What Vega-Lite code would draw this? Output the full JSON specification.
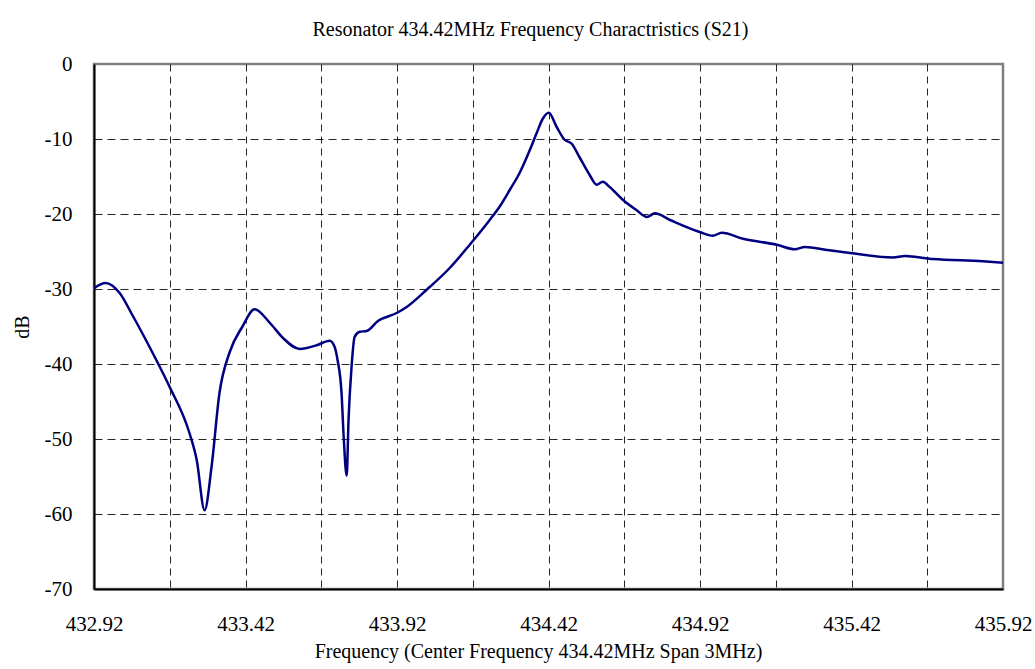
{
  "$schema": "https://vega.github.io/schema/vega-lite/v6.json",
  "width": 909,
  "height": 525,
  "autosize": {"type": "none"},
  "padding": {"left": 94, "top": 64, "right": 32, "bottom": 80},
  "background": "white",
  "title": {
    "text": "Resonator 434.42MHz Frequency Charactristics (S21)",
    "font": "Liberation Serif",
    "fontSize": 20,
    "fontWeight": "normal",
    "color": "#000000",
    "anchor": "middle",
    "frame": "group",
    "baseline": "bottom",
    "offset": -7,
    "dx": -18
  },
  "data": {
    "values": [
      {"f": 432.920, "db": -29.9},
      {"f": 432.958, "db": -29.2},
      {"f": 433.004, "db": -30.5},
      {"f": 433.047, "db": -33.5},
      {"f": 433.103, "db": -37.7},
      {"f": 433.126, "db": -39.5},
      {"f": 433.169, "db": -43.0},
      {"f": 433.235, "db": -49.2},
      {"f": 433.259, "db": -52.8},
      {"f": 433.285, "db": -59.5},
      {"f": 433.308, "db": -53.7},
      {"f": 433.334, "db": -43.9},
      {"f": 433.367, "db": -38.5},
      {"f": 433.410, "db": -35.0},
      {"f": 433.450, "db": -32.7},
      {"f": 433.500, "db": -34.5},
      {"f": 433.543, "db": -36.5},
      {"f": 433.599, "db": -38.0},
      {"f": 433.655, "db": -37.5},
      {"f": 433.698, "db": -36.9},
      {"f": 433.714, "db": -37.7},
      {"f": 433.724, "db": -39.5},
      {"f": 433.737, "db": -43.9},
      {"f": 433.744, "db": -49.7},
      {"f": 433.754, "db": -54.9},
      {"f": 433.760, "db": -47.5},
      {"f": 433.770, "db": -40.4},
      {"f": 433.780, "db": -36.4},
      {"f": 433.797, "db": -35.7},
      {"f": 433.820, "db": -35.6},
      {"f": 433.856, "db": -34.3},
      {"f": 433.919, "db": -33.2},
      {"f": 433.952, "db": -32.4},
      {"f": 434.018, "db": -30.1},
      {"f": 434.094, "db": -27.2},
      {"f": 434.160, "db": -24.1},
      {"f": 434.226, "db": -20.8},
      {"f": 434.259, "db": -19.0},
      {"f": 434.292, "db": -16.8},
      {"f": 434.325, "db": -14.5},
      {"f": 434.358, "db": -11.5},
      {"f": 434.381, "db": -9.2},
      {"f": 434.401, "db": -7.3},
      {"f": 434.421, "db": -6.5},
      {"f": 434.447, "db": -8.4},
      {"f": 434.473, "db": -10.1},
      {"f": 434.496, "db": -10.6},
      {"f": 434.522, "db": -12.4},
      {"f": 434.556, "db": -14.8},
      {"f": 434.579, "db": -16.1},
      {"f": 434.599, "db": -15.7},
      {"f": 434.622, "db": -16.4},
      {"f": 434.665, "db": -18.1},
      {"f": 434.711, "db": -19.5},
      {"f": 434.745, "db": -20.4},
      {"f": 434.771, "db": -19.9},
      {"f": 434.821, "db": -20.8},
      {"f": 434.919, "db": -22.4},
      {"f": 434.962, "db": -22.9},
      {"f": 434.992, "db": -22.5},
      {"f": 435.062, "db": -23.3},
      {"f": 435.174, "db": -24.1},
      {"f": 435.233, "db": -24.7},
      {"f": 435.266, "db": -24.4},
      {"f": 435.339, "db": -24.8},
      {"f": 435.415, "db": -25.2},
      {"f": 435.557, "db": -25.8},
      {"f": 435.596, "db": -25.6},
      {"f": 435.689, "db": -26.0},
      {"f": 435.854, "db": -26.3},
      {"f": 435.920, "db": -26.5}
    ]
  },
  "mark": {"type": "line", "color": "#000080", "strokeWidth": 2.5, "interpolate": "monotone", "clip": true},
  "encoding": {
    "x": {
      "field": "f",
      "type": "quantitative",
      "scale": {"domain": [432.92, 435.92], "nice": false, "zero": false},
      "axis": {
        "title": "Frequency (Center Frequency 434.42MHz Span 3MHz)",
        "values": [432.92, 433.17, 433.42, 433.67, 433.92, 434.17, 434.42, 434.67, 434.92, 435.17, 435.42, 435.67, 435.92],
        "labelExpr": "(round((datum.value - 432.92) * 4) % 2 == 0) ? format(datum.value, '.2f') : ''",
        "grid": true,
        "gridColor": "#000000",
        "gridDash": [7, 5],
        "gridWidth": 1,
        "gridOpacity": {"condition": {"test": "datum.value < 432.93 || datum.value > 435.91", "value": 0}, "value": 0.85},
        "ticks": false,
        "domainColor": "#000000",
        "domainWidth": 2,
        "labelFont": "Liberation Serif",
        "labelFontSize": 21,
        "labelColor": "#000000",
        "labelPadding": 24,
        "labelOverlap": false,
        "labelFlush": false,
        "titleFont": "Liberation Serif",
        "titleFontSize": 20,
        "titleFontWeight": "normal",
        "titleColor": "#000000",
        "titlePadding": 7,
        "titleX": 444,
        "titleAlign": "center"
      }
    },
    "y": {
      "field": "db",
      "type": "quantitative",
      "scale": {"domain": [-70, 0], "nice": false},
      "axis": {
        "title": "dB",
        "values": [-70, -60, -50, -40, -30, -20, -10, 0],
        "labelExpr": "'' + datum.value",
        "grid": true,
        "gridColor": "#000000",
        "gridDash": [8, 5],
        "gridWidth": 1,
        "gridOpacity": {"condition": {"test": "datum.value < -69.9 || datum.value > -0.1", "value": 0}, "value": 0.85},
        "ticks": false,
        "domainColor": "#000000",
        "domainWidth": 2,
        "labelFont": "Liberation Serif",
        "labelFontSize": 21,
        "labelColor": "#000000",
        "labelPadding": 22,
        "labelFlush": false,
        "labelOverlap": false,
        "titleFont": "Liberation Serif",
        "titleFontSize": 20,
        "titleFontWeight": "normal",
        "titleColor": "#000000",
        "titlePadding": 12
      }
    }
  },
  "config": {
    "view": {"stroke": "#808080", "strokeWidth": 2.5}
  }
}
